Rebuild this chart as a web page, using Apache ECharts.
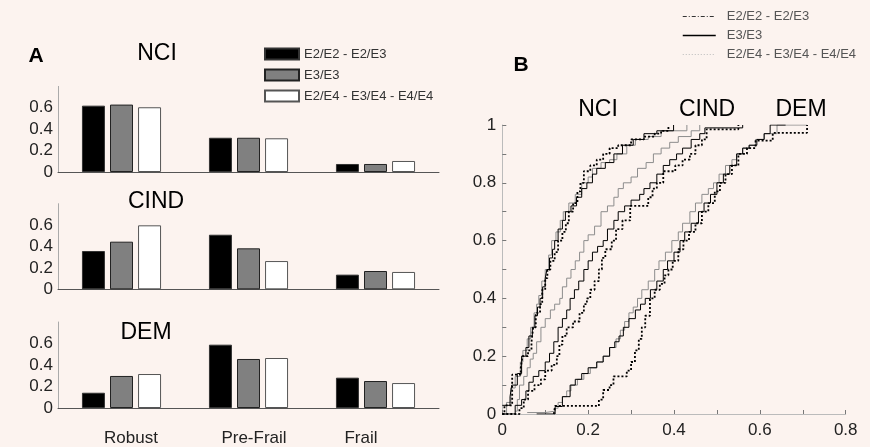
<!DOCTYPE html>
<html>
<head>
<meta charset="utf-8">
<script src="https://cdn.jsdelivr.net/npm/echarts@6/dist/echarts.min.js"></script>
<style>
html,body{margin:0;padding:0;background:#fcf3ef;}
#c{width:870px;height:447px;}
</style>
</head>
<body>
<div id="c"></div>
<script>
// ---------- DATA ----------
const categories = ['Robust', 'Pre-Frail', 'Frail'];
const genotypes = ['E2/E2 - E2/E3', 'E3/E3', 'E2/E4 - E3/E4 - E4/E4'];
const yTicksA = [0, 0.2, 0.4, 0.6];

// Panel A: proportions per frailty category
const nciE2 = [0.62, 0.32, 0.075];
const nciE3 = [0.63, 0.32, 0.075];
const nciE4 = [0.605, 0.315, 0.103];
const cindE2 = [0.358, 0.51, 0.137];
const cindE3 = [0.445, 0.383, 0.171];
const cindE4 = [0.598, 0.264, 0.162];
const demE2 = [0.142, 0.589, 0.282];
const demE3 = [0.298, 0.456, 0.251];
const demE4 = [0.316, 0.465, 0.232];

// Panel B: empirical cumulative distributions [x, F(x)]
const nciCdfE2 = [[0,0],[0.005,0.03],[0.023,0.136],[0.043,0.16],[0.047,0.2],[0.06,0.22],[0.068,0.25],[0.072,0.3],[0.078,0.35],[0.088,0.38],[0.093,0.43],[0.1,0.47],[0.105,0.5],[0.112,0.53],[0.122,0.56],[0.13,0.6],[0.14,0.63],[0.148,0.66],[0.155,0.7],[0.165,0.73],[0.175,0.77],[0.182,0.8],[0.19,0.84],[0.205,0.86],[0.22,0.88],[0.235,0.9],[0.25,0.92],[0.27,0.93],[0.3,0.95],[0.33,0.96],[0.355,0.97],[0.37,0.98],[0.387,1.0]];
const nciCdfE3 = [[0,0.03],[0.018,0.06],[0.022,0.1],[0.035,0.14],[0.045,0.2],[0.055,0.23],[0.062,0.27],[0.07,0.3],[0.076,0.34],[0.082,0.37],[0.088,0.4],[0.094,0.44],[0.1,0.47],[0.104,0.5],[0.11,0.54],[0.117,0.57],[0.122,0.6],[0.13,0.64],[0.14,0.67],[0.147,0.7],[0.16,0.72],[0.173,0.75],[0.185,0.78],[0.197,0.8],[0.21,0.83],[0.22,0.85],[0.24,0.87],[0.26,0.9],[0.28,0.93],[0.305,0.95],[0.33,0.97],[0.36,0.98],[0.399,1.0]];
const nciCdfE4 = [[0,0],[0.01,0.04],[0.02,0.09],[0.03,0.13],[0.042,0.18],[0.048,0.22],[0.058,0.26],[0.066,0.3],[0.074,0.35],[0.08,0.38],[0.085,0.41],[0.092,0.46],[0.1,0.5],[0.108,0.55],[0.115,0.6],[0.125,0.63],[0.135,0.67],[0.142,0.7],[0.155,0.73],[0.17,0.76],[0.185,0.8],[0.2,0.82],[0.21,0.85],[0.23,0.87],[0.25,0.88],[0.267,0.9],[0.29,0.93],[0.31,0.95],[0.34,0.96],[0.37,0.98],[0.43,1.0]];
const cindCdfE2 = [[0,0],[0.04,0.02],[0.05,0.05],[0.06,0.08],[0.075,0.1],[0.09,0.12],[0.1,0.15],[0.115,0.17],[0.127,0.2],[0.133,0.24],[0.14,0.27],[0.15,0.3],[0.165,0.32],[0.18,0.35],[0.19,0.38],[0.197,0.4],[0.205,0.43],[0.215,0.46],[0.225,0.5],[0.232,0.54],[0.24,0.57],[0.255,0.6],[0.265,0.64],[0.28,0.67],[0.298,0.72],[0.34,0.75],[0.35,0.78],[0.36,0.8],[0.375,0.84],[0.403,0.86],[0.42,0.88],[0.437,0.9],[0.45,0.93],[0.465,0.95],[0.476,0.985],[0.55,1.0]];
const cindCdfE3 = [[0,0],[0.03,0.03],[0.045,0.05],[0.055,0.08],[0.062,0.11],[0.072,0.13],[0.085,0.15],[0.1,0.18],[0.11,0.21],[0.12,0.25],[0.13,0.3],[0.14,0.33],[0.15,0.36],[0.158,0.4],[0.168,0.43],[0.178,0.46],[0.19,0.5],[0.2,0.53],[0.21,0.56],[0.222,0.58],[0.235,0.6],[0.245,0.64],[0.26,0.67],[0.27,0.7],[0.285,0.72],[0.3,0.74],[0.32,0.76],[0.33,0.78],[0.344,0.8],[0.36,0.83],[0.375,0.86],[0.39,0.88],[0.406,0.9],[0.42,0.92],[0.44,0.95],[0.46,0.97],[0.472,0.99],[0.56,1.0]];
const cindCdfE4 = [[0.03,0.01],[0.035,0.05],[0.04,0.1],[0.05,0.13],[0.058,0.16],[0.065,0.19],[0.072,0.21],[0.08,0.25],[0.09,0.3],[0.1,0.33],[0.112,0.36],[0.122,0.38],[0.134,0.4],[0.14,0.44],[0.15,0.47],[0.16,0.5],[0.17,0.53],[0.18,0.56],[0.19,0.6],[0.2,0.62],[0.215,0.65],[0.23,0.7],[0.245,0.72],[0.26,0.75],[0.27,0.78],[0.282,0.8],[0.3,0.82],[0.315,0.85],[0.335,0.87],[0.352,0.9],[0.37,0.92],[0.39,0.94],[0.41,0.96],[0.44,0.98],[0.46,1.0]];
const demCdfE2 = [[0.12,0],[0.123,0.028],[0.22,0.028],[0.225,0.05],[0.235,0.083],[0.25,0.1],[0.259,0.13],[0.29,0.15],[0.3,0.18],[0.309,0.22],[0.318,0.26],[0.325,0.3],[0.333,0.34],[0.344,0.4],[0.355,0.43],[0.367,0.45],[0.378,0.48],[0.387,0.5],[0.397,0.53],[0.41,0.57],[0.422,0.6],[0.435,0.63],[0.45,0.66],[0.465,0.7],[0.48,0.73],[0.495,0.77],[0.507,0.8],[0.52,0.83],[0.535,0.86],[0.55,0.9],[0.57,0.92],[0.59,0.946],[0.63,0.973],[0.71,1.0]];
const demCdfE3 = [[0.08,0],[0.123,0.026],[0.14,0.06],[0.158,0.1],[0.17,0.12],[0.185,0.14],[0.2,0.16],[0.22,0.18],[0.235,0.2],[0.25,0.23],[0.262,0.25],[0.272,0.27],[0.282,0.3],[0.295,0.33],[0.31,0.36],[0.322,0.38],[0.333,0.4],[0.345,0.43],[0.36,0.46],[0.375,0.5],[0.385,0.53],[0.4,0.56],[0.414,0.6],[0.425,0.63],[0.44,0.66],[0.457,0.7],[0.47,0.73],[0.485,0.76],[0.5,0.8],[0.515,0.83],[0.53,0.86],[0.546,0.9],[0.56,0.92],[0.575,0.93],[0.593,0.95],[0.61,0.97],[0.624,1.0],[0.66,1.0]];
const demCdfE4 = [[0.058,0.005],[0.1,0.01],[0.123,0.02],[0.13,0.04],[0.14,0.06],[0.15,0.08],[0.16,0.1],[0.175,0.12],[0.19,0.14],[0.205,0.16],[0.22,0.18],[0.235,0.2],[0.25,0.23],[0.265,0.26],[0.275,0.29],[0.285,0.32],[0.295,0.35],[0.305,0.37],[0.315,0.4],[0.325,0.43],[0.34,0.46],[0.355,0.5],[0.365,0.53],[0.38,0.56],[0.395,0.6],[0.41,0.63],[0.42,0.66],[0.437,0.7],[0.45,0.73],[0.465,0.76],[0.48,0.78],[0.492,0.8],[0.505,0.83],[0.52,0.86],[0.535,0.88],[0.546,0.9],[0.56,0.92],[0.575,0.93],[0.59,0.95],[0.61,0.97],[0.64,1.0],[0.71,1.0]];

// ---------- CHART ----------
const FONT = 'Liberation Sans, Arial, sans-serif';
const chart = echarts.init(document.getElementById('c'), null, {renderer: 'canvas'});

const barStyles = [
  {color: '#000000', borderColor: '#333333', borderWidth: 1},
  {color: '#808080', borderColor: '#222222', borderWidth: 1},
  {color: '#ffffff', borderColor: '#555555', borderWidth: 1}
];
const panelA = [
  {name: 'NCI', vals: [nciE2, nciE3, nciE4], top: 86.4, bottom: 275},
  {name: 'CIND', vals: [cindE2, cindE3, cindE4], top: 203.7, bottom: 157.7},
  {name: 'DEM', vals: [demE2, demE3, demE4], top: 322, bottom: 39}
];
const labelPads = [[0,0,0,19],[0,0,0,11],[0,29,0,0]];

const grids = [], xAxes = [], yAxes = [], series = [];
panelA.forEach((p, i) => {
  grids.push({left: 58, right: 431, top: p.top, bottom: p.bottom});
  xAxes.push({
    type: 'category', gridIndex: i,
    data: categories.map((c, k) => ({value: c, textStyle: {padding: labelPads[k]}})),
    axisLine: {lineStyle: {color: '#555', width: 1}},
    axisTick: {show: false},
    axisLabel: {show: i === 2, fontFamily: FONT, fontSize: 17, color: '#222', margin: 22},
    splitLine: {show: false}
  });
  yAxes.push({
    type: 'value', gridIndex: i, min: 0, max: 0.8, interval: 0.2,
    axisLine: {show: true, lineStyle: {color: '#aaa', width: 1}},
    axisTick: {show: false},
    splitLine: {show: false},
    axisLabel: {
      fontFamily: FONT, fontSize: 17, color: '#222', margin: 5,
      formatter: v => (yTicksA.some(t => Math.abs(t - v) < 1e-9) ? String(+v.toFixed(1)) : '')
    }
  });
  p.vals.forEach((vals, g) => {
    series.push({
      type: 'bar', name: genotypes[g], xAxisIndex: i, yAxisIndex: i,
      data: vals, barWidth: 23, barGap: '22%',
      itemStyle: barStyles[g]
    });
  });
});

// Panel B
grids.push({left: 502.3, right: 24.3, top: 125, bottom: 33});
xAxes.push({
  type: 'value', gridIndex: 3, min: 0, max: 0.8, interval: 0.1,
  axisLine: {show: true, lineStyle: {color: '#bbb', width: 1}},
  axisTick: {show: true, inside: true, length: 4, lineStyle: {color: '#777'}},
  splitLine: {show: false},
  axisLabel: {fontFamily: FONT, fontSize: 17, color: '#222', margin: 8,
    formatter: v => (Math.round(v * 10) % 2 === 0 ? String(+v.toFixed(1)) : '')}
});
yAxes.push({
  type: 'value', gridIndex: 3, min: 0, max: 1, interval: 0.1,
  axisLine: {show: true, lineStyle: {color: '#bbb', width: 1}},
  axisTick: {show: true, inside: true, length: 4, lineStyle: {color: '#777'}},
  splitLine: {show: false},
  axisLabel: {fontFamily: FONT, fontSize: 17, color: '#222', margin: 6,
    formatter: v => (Math.round(v * 10) % 2 === 0 ? String(+v.toFixed(1)) : '')}
});

const lineNames = genotypes.map(g => 'B:' + g);
const lineColors = ['#000', '#000', '#8c8c8c'];
const lineStyles = [
  {color: lineColors[0], width: 1.8, type: [2, 2]},
  {color: lineColors[1], width: 1},
  {color: lineColors[2], width: 1}
];
const cdfs = [
  [nciCdfE2, nciCdfE3, nciCdfE4],
  [cindCdfE2, cindCdfE3, cindCdfE4],
  [demCdfE2, demCdfE3, demCdfE4]
];
// draw gray first, then solid, then dotted on top
[2, 1, 0].forEach(g => {
  cdfs.forEach(grp => {
    series.push({
      type: 'line', name: lineNames[g], xAxisIndex: 3, yAxisIndex: 3,
      data: grp[g], step: 'end', symbol: 'none', showSymbol: false,
      itemStyle: {color: lineColors[g]},
      lineStyle: lineStyles[g], z: 3 - g
    });
  });
});

const t = (txt, x, y, size, weight) => ({
  type: 'text', x: x, y: y,
  style: {text: txt, fill: '#000', font: (weight || 'normal') + ' ' + size + 'px ' + FONT,
    textAlign: 'center', textVerticalAlign: 'middle'}
});

chart.setOption({
  animation: false,
  backgroundColor: '#fcf3ef',
  grid: grids,
  xAxis: xAxes,
  yAxis: yAxes,
  legend: [
    {
      data: genotypes, orient: 'vertical', left: 264, top: 47, padding: 0,
      itemWidth: 34, itemHeight: 11, itemGap: 7, icon: 'rect',
      selectedMode: false,
      textStyle: {fontFamily: FONT, fontSize: 13, color: '#333', lineHeight: 14}
    },
    {
      data: [
        {name: lineNames[0], itemStyle: {opacity: 0}, lineStyle: {color: '#333', width: 1, type: [4, 2, 1, 2]}},
        {name: lineNames[1], itemStyle: {opacity: 0}, lineStyle: {color: '#000', width: 1.5, type: 'solid'}},
        {name: lineNames[2], itemStyle: {opacity: 0}, lineStyle: {color: '#bbb', width: 1, type: [1, 2]}}
      ],
      orient: 'vertical', left: 682, top: 10, padding: 0,
      itemWidth: 33, itemHeight: 10, itemGap: 6,
      selectedMode: false,
      formatter: n => n.replace(/^B:/, ''),
      textStyle: {fontFamily: FONT, fontSize: 13, color: '#555', lineHeight: 12, padding: [0, 0, 0, 6]}
    }
  ],
  graphic: [
    t('A', 36, 56, 21, 'bold'),
    t('NCI', 157, 54, 23),
    t('CIND', 156, 202, 23),
    t('DEM', 146, 333, 23),
    t('B', 521, 65, 21, 'bold'),
    t('NCI', 598, 110, 23),
    t('CIND', 707, 110, 23),
    t('DEM', 801, 110, 23)
  ],
  series: series
});
</script>
</body>
</html>
